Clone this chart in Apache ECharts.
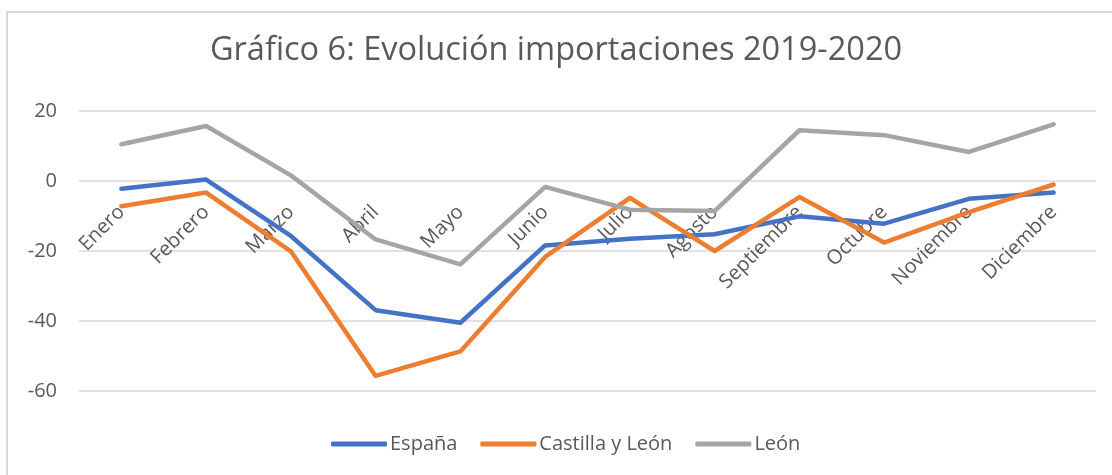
<!DOCTYPE html>
<html>
<head>
<meta charset="utf-8">
<script src="https://cdn.jsdelivr.net/npm/echarts@6/dist/echarts.min.js"></script>
<style>
  html, body { margin: 0; padding: 0; background: #fff; }
  #main { width: 1112px; height: 475px; }
</style>
</head>
<body>
<div id="main"></div>
<script>
// meses (eje x)
var meses = ['Enero', 'Febrero', 'Marzo', 'Abril', 'Mayo', 'Junio', 'Julio',
  'Agosto', 'Septiembre', 'Octubre', 'Noviembre', 'Diciembre'];

// variación % importaciones 2019-2020
var espana = [-2.2, 0.4, -15.7, -36.9, -40.5, -18.4, -16.5, -15.2, -10.1, -12.2, -5.1, -3.3];
var castillaLeon = [-7.2, -3.3, -20.1, -55.7, -48.7, -21.7, -4.8, -20.0, -4.6, -17.6, -8.9, -1.0];
var leon = [10.5, 15.7, 1.6, -16.7, -23.8, -1.7, -8.2, -8.6, 14.5, 13.1, 8.3, 16.2];

var nombres = ['España', 'Castilla y León', 'León'];
var colores = ['#4472C4', '#ED7D31', '#A5A5A5'];

var fuente = '"Open Sans", "Noto Sans", sans-serif';
var gris = '#595959';

var myChart = echarts.init(document.getElementById('main'));

function serie(nombre, datos, color) {
  return {
    name: nombre,
    type: 'line',
    data: datos,
    symbol: 'none',
    color: color,
    itemStyle: { color: color },
    lineStyle: { width: 4.5, color: color, cap: 'round', join: 'round' }
  };
}

var option = {
  animation: false,
  textStyle: { fontFamily: fuente },
  title: {
    text: 'Gráfico 6: Evolución importaciones 2019-2020',
    left: 'center',
    top: 29,
    textStyle: { fontFamily: fuente, fontSize: 32.5, fontWeight: 'normal', color: gris }
  },
  // marco del gráfico
  graphic: [{
    type: 'rect',
    silent: true,
    shape: { x: 7, y: 12, width: 1200, height: 600 },
    style: { fill: 'none', stroke: '#D9D9D9', lineWidth: 2 }
  }],
  legend: {
    data: nombres,
    left: 326,
    top: 429,
    icon: 'roundRect',
    itemWidth: 56,
    itemHeight: 5,
    itemGap: 23,
    textStyle: { fontFamily: fuente, fontSize: 20, color: gris, padding: [0, 0, 0, -2] }
  },
  grid: {
    left: 79,
    right: 16,
    top: 111,
    bottom: 84,
    containLabel: false,
    outerBoundsMode: 'none'
  },
  xAxis: {
    type: 'category',
    data: meses,
    boundaryGap: true,
    position: 'bottom',
    // el eje cruza en 0: desplazado desde el borde inferior (-60) hasta 0
    offset: -210,
    axisLine: { show: false, onZero: false },
    axisTick: { show: false },
    axisLabel: {
      interval: 0,
      rotate: 45,
      margin: 28,
      fontSize: 20,
      color: gris,
      fontFamily: fuente
    }
  },
  yAxis: {
    type: 'value',
    min: -60,
    max: 20,
    interval: 20,
    axisLine: { show: false },
    axisTick: { show: false },
    axisLabel: { fontSize: 20, color: gris, margin: 22, fontFamily: fuente },
    splitLine: { lineStyle: { color: '#D9D9D9', width: 1.5 } }
  },
  series: [
    serie(nombres[0], espana, colores[0]),
    serie(nombres[1], castillaLeon, colores[1]),
    serie(nombres[2], leon, colores[2])
  ]
};

myChart.setOption(option);
</script>
</body>
</html>
